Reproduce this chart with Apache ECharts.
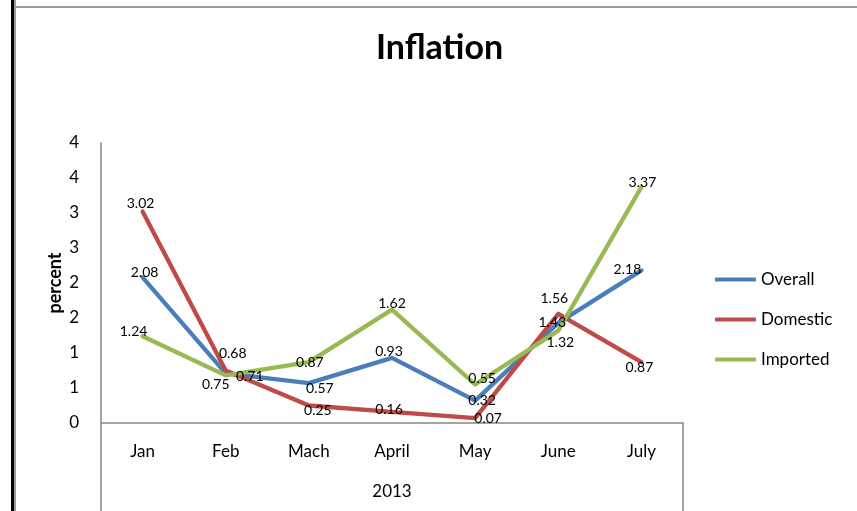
<!DOCTYPE html>
<html>
<head>
<meta charset="utf-8">
<script src="https://cdn.jsdelivr.net/npm/echarts@6/dist/echarts.min.js"></script>
<style>
html,body{margin:0;padding:0;background:#fff;}
#chart{width:857px;height:511px;}
</style>
</head>
<body>
<div id="chart"></div>
<script>
var months = ['Jan', 'Feb', 'Mach', 'April', 'May', 'June', 'July'];
var yearGroup = ['2013'];
var overall = [2.08, 0.71, 0.57, 0.93, 0.32, 1.43, 2.18];
var domestic = [3.02, 0.75, 0.25, 0.16, 0.07, 1.56, 0.87];
var imported = [1.24, 0.68, 0.87, 1.62, 0.55, 1.32, 3.37];
var seriesNames = ['Overall', 'Domestic', 'Imported'];

// label placement tweaks (pixel offsets of each label centre from its point)
var overallLabelOffsets = [[2,-5],[24,3],[11,5],[-3,-6],[7,0],[-6,0],[-14,-1]];
var domesticLabelOffsets = [[-2,-8],[-10,14],[9,5],[-3,-2],[13,0],[-4,-15],[-2,5]];
var importedLabelOffsets = [[-9,-5],[7,-22],[1,0],[0,-6],[7,-6],[2,12],[1,-5]];

var FONT = 'Lato, "DejaVu Sans", sans-serif';
var colors = ['#4A7EBB', '#BE4B48', '#98B954'];

function buildData(values, offsets) {
  return values.map(function (v, i) {
    return {
      value: v,
      label: { position: offsets[i], align: 'center', verticalAlign: 'middle' }
    };
  });
}

function makeSeries(name, values, offsets, color) {
  return {
    name: name,
    type: 'line',
    data: buildData(values, offsets),
    symbol: 'circle',
    symbolSize: 0,
    showSymbol: true,
    lineStyle: { width: 4.3, color: color, cap: 'round', join: 'round' },
    itemStyle: { color: color },
    emphasis: { disabled: true },
    label: {
      show: true,
      color: '#000',
      fontFamily: FONT,
      fontSize: 14,
      formatter: function (p) { return p.value.toFixed(2); }
    },
    labelLayout: { hideOverlap: false },
    animation: false
  };
}

var chart = echarts.init(document.getElementById('chart'), null, { renderer: 'canvas' });
chart.setOption({
  backgroundColor: '#fff',
  animation: false,
  color: colors,
  title: {
    text: 'Inflation',
    left: 371,
    top: 26,
    textStyle: { fontFamily: FONT, fontSize: 34, fontWeight: 'bold', color: '#000' }
  },
  legend: {
    orient: 'vertical',
    left: 715,
    top: 271,
    padding: 0,
    itemWidth: 41,
    itemHeight: 4,
    itemGap: 23,
    icon: 'roundRect',
    data: seriesNames,
    textStyle: { fontFamily: FONT, fontSize: 17, color: '#000' }
  },
  grid: { left: 101, right: 174, top: 143, bottom: 88, containLabel: false },
  xAxis: [
    {
      type: 'category',
      data: months,
      boundaryGap: true,
      axisLine: { show: true, lineStyle: { color: '#868686', width: 1.5 } },
      axisTick: { show: false },
      axisLabel: { fontFamily: FONT, fontSize: 17, color: '#000', margin: 20 },
      splitLine: { show: false }
    },
    {
      type: 'category',
      data: yearGroup,
      position: 'bottom',
      boundaryGap: true,
      axisLine: { show: false },
      axisTick: { show: true, length: 88, lineStyle: { color: '#868686', width: 1.5 } },
      axisLabel: { fontFamily: FONT, fontSize: 17, color: '#000', margin: 60 },
      splitLine: { show: false }
    }
  ],
  yAxis: {
    type: 'value',
    min: 0,
    max: 4,
    interval: 0.5,
    name: 'percent',
    nameLocation: 'middle',
    nameGap: 37,
    nameMoveOverlap: false,
    nameRotate: 90,
    nameTextStyle: { fontFamily: FONT, fontSize: 18, fontWeight: 'bold', color: '#000' },
    axisLine: { show: true, lineStyle: { color: '#868686', width: 1.5 } },
    axisTick: { show: false },
    splitLine: { show: false },
    axisLabel: {
      fontFamily: FONT, fontSize: 17, color: '#000', margin: 22,
      formatter: function (v) { return String(Math.round(v)); }
    }
  },
  series: [
    makeSeries(seriesNames[0], overall, overallLabelOffsets, colors[0]),
    makeSeries(seriesNames[1], domestic, domesticLabelOffsets, colors[1]),
    makeSeries(seriesNames[2], imported, importedLabelOffsets, colors[2])
  ],
  graphic: [
    { type: 'rect', shape: { x: 11, y: 0, width: 3, height: 511 }, style: { fill: '#000' }, silent: true },
    { type: 'rect', shape: { x: 14, y: 0, width: 2, height: 511 }, style: { fill: '#9a9a9a' }, silent: true },
    { type: 'rect', shape: { x: 14, y: 6, width: 843, height: 2 }, style: { fill: '#9a9a9a' }, silent: true }
  ]
});
</script>
</body>
</html>
